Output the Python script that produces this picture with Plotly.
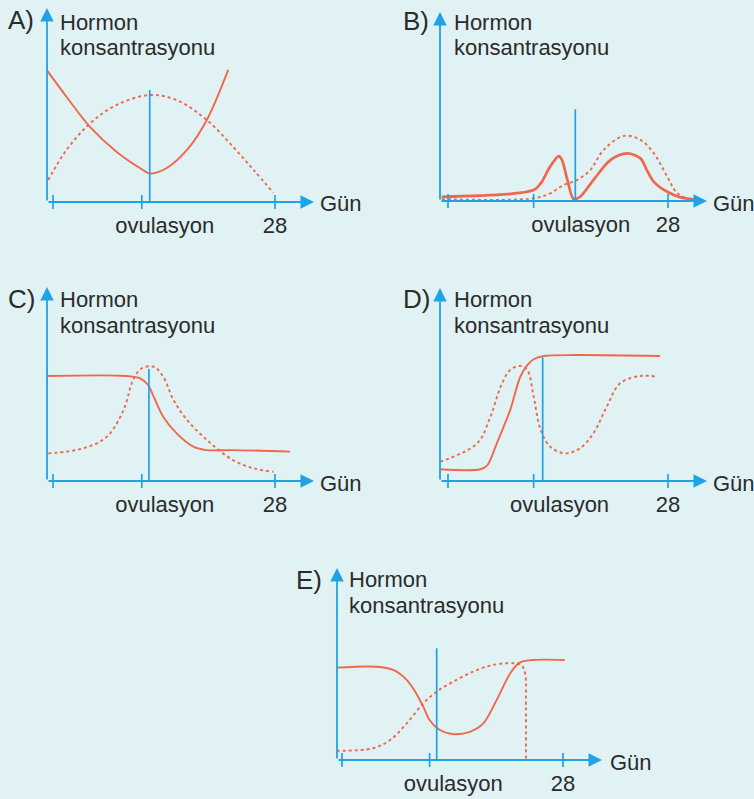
import plotly.graph_objects as go

W, H = 754, 799
BG = "#e0f2f3"
BLUE = "#1fa3e5"
RED = "#f1674c"
TEXT = "#2b2b2b"
FONT = "Liberation Sans, Arial, sans-serif"
PX_PER_UNIT = 1.92  # vertical pixels per concentration unit

# ---- data (day of cycle, hormone concentration) ----
a_solid_day = [-0.8, 1.7, 4.75, 8.0, 11.0, 12.2, 14.3, 16.9, 19.4, 22.1]
a_solid_val = [68.8, 54.8, 38.7, 26.2, 17.6, 14.9, 17.6, 27.1, 42.7, 68.8]
a_dash_day = [-0.6, 1.7, 4.7, 8.0, 12.2, 15.6, 19.4, 22.7, 25.3, 27.8]
a_dash_val = [11.5, 27.1, 41.0, 50.5, 55.7, 53.1, 42.7, 28.8, 16.7, 4.8]

b_solid_day = [-0.8, 10.9, 11.8, 13.0, 14.1, 14.5, 15.2, 16.0, 16.8, 18.5,
               20.7, 22.8, 24.5, 25.3, 26.2, 27.9, 29.6, 31.3]
b_solid_val = [2.2, 5.7, 9.2, 17.9, 23.4, 21.4, 10.9, 0.9, 2.2, 10.9,
               21.4, 24.8, 22.2, 16.1, 10.0, 4.8, 1.9, 0.9]
b_dash_day = [-0.8, 10.9, 13.0, 14.7, 16.4, 18.1, 19.8, 22.4, 24.5, 26.2, 27.9, 29.2, 31.0]
b_dash_val = [1.0, 1.4, 4.0, 8.3, 10.9, 16.1, 26.6, 33.9, 31.8, 24.8, 12.7, 4.0, 0.5]

c_solid_day = [-0.8, 9.3, 11.0, 12.0, 12.7, 13.9, 15.6, 17.7, 19.4, 22.7, 29.9]
c_solid_val = [54.7, 54.7, 53.5, 50.0, 43.9, 33.5, 24.8, 17.9, 16.1, 16.1, 15.3]
c_dash_day = [-0.6, 3.8, 6.8, 8.9, 10.1, 11.2, 12.7, 13.9, 15.2, 16.9, 19.4, 22.7, 25.3, 27.8]
c_dash_val = [14.4, 17.0, 23.1, 37.0, 52.6, 58.7, 59.5, 54.3, 42.2, 31.8, 21.4, 10.9, 6.6, 4.8]

d_solid_day = [-1.0, 4.1, 5.0, 6.2, 7.9, 9.2, 10.1, 10.9, 12.2, 16.4, 27.0]
d_solid_val = [6.1, 6.1, 8.2, 19.5, 36.8, 54.3, 60.3, 63.4, 65.1, 65.6, 65.1]
d_dash_day = [-1.0, 3.7, 5.4, 6.7, 7.9, 9.2, 10.1, 10.9, 11.8, 13.0, 14.9, 16.8,
              18.5, 20.2, 21.9, 24.5, 26.6]
d_dash_val = [10.0, 19.6, 33.5, 49.1, 57.8, 59.9, 57.8, 43.9, 26.6, 17.9, 14.4, 17.0,
              24.8, 38.7, 50.9, 54.7, 54.3]

e_solid_day = [-0.7, 4.4, 6.5, 8.2, 9.4, 10.3, 11.1, 12.4, 14.1, 16.2, 17.9, 19.6,
               21.3, 22.5, 24.2, 28.2]
e_solid_val = [48.1, 48.6, 46.9, 41.7, 34.7, 27.8, 20.8, 15.6, 13.5, 14.7, 19.1, 31.3,
               45.1, 50.7, 52.1, 52.1]
e_dash_day = [-0.7, 3.9, 6.1, 8.2, 10.3, 12.0, 14.1, 16.6, 19.1, 21.7, 22.7, 23.2, 23.3, 23.3]
e_dash_val = [4.8, 6.1, 10.4, 19.1, 29.5, 35.6, 40.8, 46.0, 49.5, 50.4, 49.5, 45.1, 27.8, 0.0]

# ovulation marker line (day, height)
ovu_day = [12.2, 16.2, 12.1, 12.05, 12.0]
ovu_top = [58.3, 47.8, 58.3, 64.4, 58.2]
# tick marks on the day axis and where the labels sit
tick_days = [[0, 11.2, 28], [0, 10.9, 28], [0, 11.2, 28], [0, 10.9, 28], [0, 11.1, 28]]
label_days = [[14.1, 28], [16.9, 28], [14.1, 28], [14.2, 28], [14.1, 28]]
tick_text = ["ovulasyon", "28"]
panel_names = ["A)", "B)", "C)", "D)", "E)"]

# ---- layout of each panel in pixels ----
geom = [
    dict(origin=47, axis=202, tip_x=314, tip_y=8, tick0=53, tick28=275,
         lab=(21, 20), horm=(58, 23), kons=47, gun=(318, 204)),
    dict(origin=440, axis=201, tip_x=707, tip_y=12, tick0=448, tick28=668,
         lab=(416, 21), horm=(452, 23), kons=47, gun=(711, 204)),
    dict(origin=47, axis=481, tip_x=314, tip_y=287, tick0=53, tick28=275,
         lab=(21, 299), horm=(58, 299), kons=325, gun=(318, 483)),
    dict(origin=440, axis=481, tip_x=707, tip_y=288, tick0=448, tick28=668,
         lab=(416, 299), horm=(452, 299), kons=325, gun=(711, 483)),
    dict(origin=337, axis=760, tip_x=602, tip_y=568, tick0=342, tick28=563,
         lab=(309, 580), horm=(347, 579), kons=605, gun=(608, 762)),
]
curves = [
    (a_solid_day, a_solid_val, a_dash_day, a_dash_val, 1.9),
    (b_solid_day, b_solid_val, b_dash_day, b_dash_val, 2.7),
    (c_solid_day, c_solid_val, c_dash_day, c_dash_val, 1.9),
    (d_solid_day, d_solid_val, d_dash_day, d_dash_val, 1.9),
    (e_solid_day, e_solid_val, e_dash_day, e_dash_val, 1.9),
]


def px(x):
    return x / W


def py(y):
    return 1 - y / H


fig = go.Figure()
layout = {}
annotations = []

for i, g in enumerate(geom):
    k = "" if i == 0 else str(i + 1)
    xa, ya = "x" + k, "y" + k
    scale = (g["tick28"] - g["tick0"]) / 28
    xr = [(g["origin"] - g["tick0"]) / scale, (g["tip_x"] - g["tick0"]) / scale]
    yr = [0, (g["axis"] - g["tip_y"]) / PX_PER_UNIT]

    layout["xaxis" + k] = dict(
        domain=[px(g["origin"]), px(g["tip_x"])], range=xr, anchor=ya,
        showgrid=False, zeroline=False, showline=False, fixedrange=True,
        tickvals=label_days[i], ticktext=tick_text, ticks="outside", ticklen=4,
        tickcolor="rgba(0,0,0,0)", tickfont=dict(size=22, color=TEXT, family=FONT),
    )
    layout["yaxis" + k] = dict(
        domain=[py(g["axis"]), py(g["tip_y"])], range=yr, anchor=xa,
        showgrid=False, zeroline=False, showline=False, showticklabels=False,
        fixedrange=True,
    )

    sd, sv, dd, dv, sw = curves[i]
    fig.add_trace(go.Scatter(x=dd, y=dv, mode="lines", xaxis=xa, yaxis=ya,
                             line=dict(color=RED, width=1.9, dash="3px,3px",
                                       shape="spline", smoothing=1.0)))
    fig.add_trace(go.Scatter(x=sd, y=sv, mode="lines", xaxis=xa, yaxis=ya,
                             line=dict(color=RED, width=sw, shape="spline", smoothing=0.9)))
    fig.add_trace(go.Scatter(x=[ovu_day[i]] * 2, y=[0, ovu_top[i]], mode="lines",
                             xaxis=xa, yaxis=ya, line=dict(color=BLUE, width=1.7)))
    fig.add_trace(go.Scatter(x=tick_days[i], y=[0] * len(tick_days[i]), mode="markers",
                             xaxis=xa, yaxis=ya, cliponaxis=False,
                             marker=dict(symbol="line-ns", size=10,
                                         line=dict(color=BLUE, width=1.7))))

    # axis arrows
    for (x1, y1) in [(1, 0), (0, 1)]:
        annotations.append(dict(
            x=x1, y=y1, ax=0, ay=0, xref=xa + " domain", yref=ya + " domain",
            axref=xa + " domain", ayref=ya + " domain", text="", showarrow=True,
            arrowhead=2, arrowsize=1.5, arrowwidth=1.8, arrowcolor=BLUE,
        ))

    # panel texts
    annotations.append(dict(x=px(g["lab"][0]), y=py(g["lab"][1]), xref="paper", yref="paper",
                            text=panel_names[i], showarrow=False, xanchor="center",
                            yanchor="middle", font=dict(size=26, color=TEXT, family=FONT)))
    annotations.append(dict(x=px(g["horm"][0]), y=py(g["horm"][1]), xref="paper", yref="paper",
                            text="Hormon", showarrow=False, xanchor="left",
                            yanchor="middle", font=dict(size=22, color=TEXT, family=FONT)))
    annotations.append(dict(x=px(g["horm"][0]), y=py(g["kons"]), xref="paper", yref="paper",
                            text="konsantrasyonu", showarrow=False, xanchor="left",
                            yanchor="middle", font=dict(size=22, color=TEXT, family=FONT)))
    annotations.append(dict(x=px(g["gun"][0]), y=py(g["gun"][1]), xref="paper", yref="paper",
                            text="Gün", showarrow=False, xanchor="left",
                            yanchor="middle", font=dict(size=22, color=TEXT, family=FONT)))

fig.update_layout(
    width=W, height=H, margin=dict(l=0, r=0, t=0, b=0),
    paper_bgcolor=BG, plot_bgcolor="rgba(0,0,0,0)",
    showlegend=False, annotations=annotations,
    font=dict(family=FONT, color=TEXT), **layout,
)

fig.write_html("out.html", config={"displayModeBar": False},
               post_script="document.body.style.margin='0';document.body.style.overflow='hidden';")
